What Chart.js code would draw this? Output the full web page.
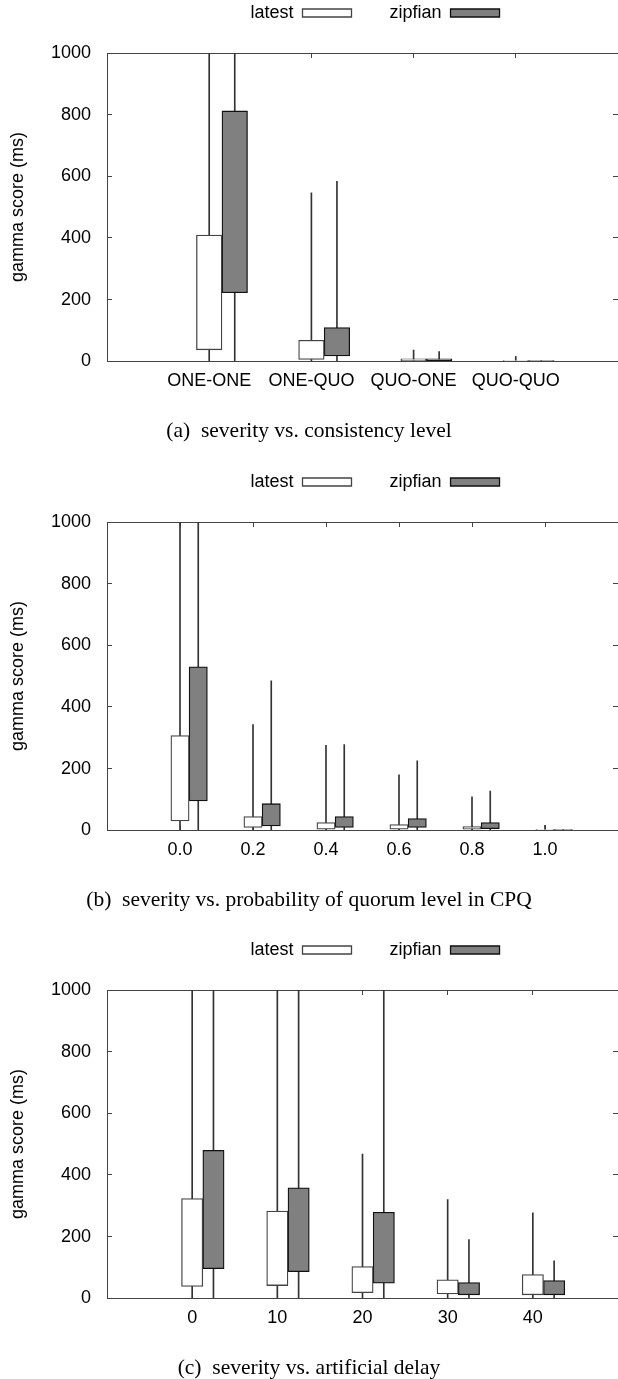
<!DOCTYPE html>
<html>
<head>
<meta charset="utf-8">
<title>gamma score box plots</title>
<script src="https://cdn.jsdelivr.net/npm/chart.js@4.4.1/dist/chart.umd.min.js"></script>
<style>
  html, body { margin: 0; padding: 0; background: #fff; overflow: hidden; }
  .panel { position: absolute; left: 0; width: 618px; height: 468px; }
</style>
</head>
<body>
<div class="panel" style="top:0px"><canvas id="chartA"></canvas></div>
<div class="panel" style="top:469px"><canvas id="chartB"></canvas></div>
<div class="panel" style="top:937px"><canvas id="chartC"></canvas></div>
<script>
// each entry is [min, q1, q3, max] in ms (whiskers clipped at 1000)
const catsA = ['ONE-ONE', 'ONE-QUO', 'QUO-ONE', 'QUO-QUO']
const latestA = [[0, 37, 409, 1000], [0, 6, 68, 546], [0, 1, 8, 36], [0, 0, 1, 15]]
const zipfianA = [[0, 222, 812, 1000], [0, 17, 109, 584], [0, 2, 8, 31], [0, 0, 1, 2]]

const catsB = ['0.0', '0.2', '0.4', '0.6', '0.8', '1.0']
const latestB = [[0, 30, 307, 1000], [0, 9, 44, 343], [0, 3, 25, 275], [0, 3, 18, 180], [0, 3, 12, 108], [0, 0, 1, 16]]
const zipfianB = [[0, 95, 530, 1000], [0, 14, 86, 485], [0, 9, 44, 278], [0, 9, 38, 225], [0, 5, 25, 127], [0, 0, 1, 2]]

const catsC = ['0', '10', '20', '30', '40']
const latestC = [[0, 38, 323, 1000], [0, 41, 283, 1000], [0, 18, 103, 468], [0, 14, 60, 320], [0, 11, 77, 277]]
const zipfianC = [[0, 96, 480, 1000], [0, 86, 358, 1000], [0, 49, 279, 1000], [0, 11, 51, 190], [0, 11, 57, 121]]

Chart.defaults.font.family = '"Liberation Sans", Arial, Helvetica, sans-serif'
Chart.defaults.font.size = 18
Chart.defaults.color = '#000'

const axisColor = '#444'
const whiskerColor = '#333'
const baseLabels = Chart.defaults.plugins.legend.labels.generateLabels

// floating bar points, one per category; shift moves the zipfian box right of the tick
function boxData(stats, shift, lo, hi) {
    return stats.map((s, i) => ({ x: i + 1 + shift, y: [s[lo], s[hi]] }))
}

function makeChart(id, cats, latest, zipfian, caption) {
    const n = cats.length

    // only keep ticks that sit on a category
    const onlyCats = (scale) => {
        scale.ticks = scale.ticks.filter(t => t.value >= 1 && t.value <= n)
    }

    const xAxis = (pos, showLabels) => ({
        type: 'linear',
        position: pos,
        min: 0,
        max: n + 1,
        offset: false,
        afterBuildTicks: onlyCats,
        afterFit: (scale) => { scale.height = pos === 'top' ? 21 : 30 },
        border: { color: axisColor },
        grid: { drawOnChartArea: false, tickLength: -5, color: axisColor, offset: false },
        ticks: {
            display: showLabels,
            stepSize: 1,
            padding: 14,
            maxRotation: 0,
            autoSkip: false,
            callback: (v) => cats[v - 1]
        }
    })

    const yAxis = (pos, showLabels) => ({
        type: 'linear',
        position: pos,
        min: 0,
        max: 1000,
        afterFit: (scale) => { scale.width = pos === 'left' ? 107 : 0 },
        border: { color: axisColor },
        grid: { drawOnChartArea: false, tickLength: -5, color: axisColor },
        ticks: { display: showLabels, stepSize: 200, padding: 21, callback: (v) => String(v) },
        title: {
            display: showLabels,
            text: 'gamma score (ms)',
            padding: { top: 7, bottom: 0 }
        }
    })

    return new Chart(document.getElementById(id), {
        type: 'bar',
        data: {
            datasets: [{
                    label: 'latest',
                    data: boxData(latest, 0, 1, 2),
                    backgroundColor: '#ffffff',
                    borderColor: '#444',
                    borderWidth: 1.3,
                    borderSkipped: false
                },
                {
                    label: 'zipfian',
                    data: boxData(zipfian, 0.25, 1, 2),
                    backgroundColor: '#808080',
                    borderColor: '#111',
                    borderWidth: 1.3,
                    borderSkipped: false
                },
                {
                    label: 'latest range',
                    data: boxData(latest, 0, 0, 3),
                    backgroundColor: whiskerColor,
                    borderWidth: 0,
                    barThickness: 1
                },
                {
                    label: 'zipfian range',
                    data: boxData(zipfian, 0.25, 0, 3),
                    backgroundColor: whiskerColor,
                    borderWidth: 0,
                    barThickness: 1
                }
            ]
        },
        options: {
            responsive: true,
            maintainAspectRatio: false,
            animation: false,
            layout: { padding: { top: -34, left: 0, right: 0, bottom: 0 } },
            datasets: {
                bar: { grouped: false, categoryPercentage: 1, barPercentage: 1 }
            },
            scales: {
                x: xAxis('bottom', true),
                x2: xAxis('top', false),
                y: yAxis('left', true),
                y2: yAxis('right', false)
            },
            plugins: {
                tooltip: { enabled: false },
                legend: {
                    position: 'top',
                    fullSize: false,
                    rtl: true,
                    reverse: true,
                    labels: {
                        boxWidth: 49,
                        boxHeight: 8,
                        padding: 38,
                        color: '#000',
                        // boxes only, text before its swatch; leading gap nudges the pair right
                        generateLabels: (chart) => baseLabels(chart)
                            .filter(it => it.datasetIndex < 2)
                            .map(it => Object.assign(it, { text: it.datasetIndex === 0 ? '     ' + it.text : it.text }))
                    }
                },
                title: {
                    display: true,
                    position: 'bottom',
                    text: caption,
                    color: '#000',
                    font: { family: '"Liberation Serif", "Times New Roman", serif', size: 21.5, weight: 'normal' },
                    padding: { top: 27, bottom: 24 }
                }
            }
        }
    })
}

makeChart('chartA', catsA, latestA, zipfianA, '(a)  severity vs. consistency level')
makeChart('chartB', catsB, latestB, zipfianB, '(b)  severity vs. probability of quorum level in CPQ')
makeChart('chartC', catsC, latestC, zipfianC, '(c)  severity vs. artificial delay')
</script>
</body>
</html>
